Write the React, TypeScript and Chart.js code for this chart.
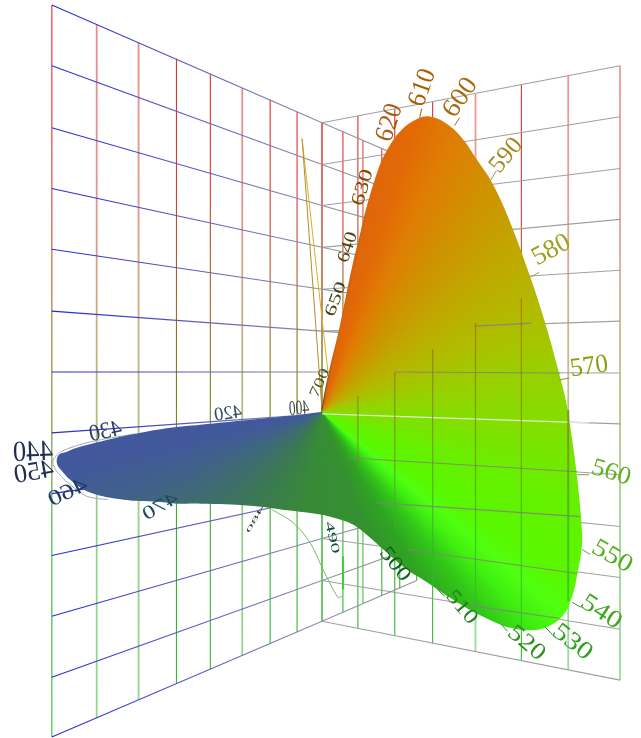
import React, { useEffect, useRef } from "react";
import { Chart, registerables } from "chart.js";

Chart.register(...registerables);

const WIDTH = 641;
const HEIGHT = 738;

// Left wall
const leftColX = [51, 96, 138, 176, 210, 242, 270, 297, 322, 343, 363, 382, 400, 417];
const leftColTop = [4, 24, 42, 58, 73, 87, 99, 111, 122, 131, 140, 148, 156, 163];
const leftColBottom = [738, 719, 701, 684, 670, 656, 644, 633, 622, 613, 604, 596, 589, 581];
const leftRowAtStart = [4, 65, 127, 188, 249, 311, 372, 433, 494, 556, 617, 678, 738];
const leftRowAtCorner = [122, 164, 205, 247, 289, 331, 372, 414, 456, 497, 539, 581, 622];
const leftRowAtEnd = [163, 199, 232, 268, 303, 338, 372, 407, 443, 476, 512, 547, 581];
const leftColPale = [0, 1, 1, 0, 0, 1, 0, 0, 1, 0, 1, 0, 0, 0];

// Right wall
const rightColX = [322, 358, 395, 433, 476, 522, 569, 621];
const rightColTop = [122, 115, 108, 101, 93, 84, 75, 65];
const rightColBottom = [622, 629, 636, 644, 652, 661, 671, 681];
const rightRowAtCorner = [122, 164, 205, 247, 289, 331, 372, 414, 456, 497, 539, 581, 622];
const rightRowAtEnd = [65, 116, 168, 219, 270, 321, 373, 424, 475, 527, 578, 630, 681];
const rightColPale = [1, 0, 0, 0, 1, 0, 1, 1];

// Right-wall pieces that show in front of the surface
const frontColX = [358, 395, 433, 476, 522, 569];
const frontColFrom = [396, 372, 349, 323, 298, 410];
const frontColTo = [471, 530, 587, 610, 628, 602];
const frontRowX0 = [476, 395, 348, 377, 407, 470];
const frontRowY0 = [326, 372, 458, 503, 550, 606];
const frontRowX1 = [532, 561, 578, 581, 578, 560];
const frontRowY1 = [323, 373, 472, 517, 574, 619];

// Outline of the spectral surface
const apexX = 322;
const apexY = 412;
const locusX = [321, 325, 331, 339, 346, 353, 361, 365, 378, 387, 401, 418, 431, 447, 463, 478, 493, 510, 531, 545, 559, 568, 573, 577, 580, 583, 582, 579, 573, 563, 547, 530, 513, 500, 473, 453, 423, 407, 387, 370, 353, 333, 320, 290, 250, 200, 177, 157, 123, 90, 73, 60, 56, 58, 66, 73, 107, 140, 170, 200, 250, 290, 321];
const locusY = [412, 390, 363, 330, 296, 263, 230, 213, 170, 150, 130, 118, 116, 123, 138, 160, 183, 220, 277, 320, 370, 407, 440, 470, 497, 537, 553, 570, 597, 617, 628, 631, 629, 625, 612, 600, 580, 570, 553, 538, 525, 518, 515, 511, 506, 504, 504, 502, 500, 493, 483, 470, 463, 455, 452, 449, 440, 433, 428, 425, 420, 416, 412];

// Ray colours of the surface, degrees clockwise from straight up
const rayDegrees = [0, 8, 10, 11.5, 13, 18, 25, 35, 50, 65, 80, 95, 110, 125, 130, 135, 141, 149, 160, 190, 215, 235, 248, 258, 275, 360];
const rayColors = ["#5a5030", "#5a5030", "#9a5a14", "#c8600c", "#e0660a", "#e26a06", "#e07c04", "#d09000", "#c0a800", "#b0bc00", "#98d000", "#80e000", "#66f000", "#58f800", "#50ff10", "#40f010", "#32c818", "#2ea422", "#349030", "#388a38", "#3a7a50", "#3e6c70", "#40608c", "#42589c", "#3f5aa0", "#5a5030"];

// Thin side curves
const redArmX = [302, 322];
const redArmY = [138, 410];
const yellowArmX = [302, 328];
const yellowArmY = [138, 372];
const greenCurveX = [272, 293, 310, 323, 338, 342];
const greenCurveY = [510, 523, 543, 570, 598, 597];
const greenStubY = [557, 590];
const tipOutlineX = [135, 90, 60, 52, 57, 73, 87, 107];
const tipOutlineY = [434, 442, 452, 462, 473, 488, 497, 500];

// Wavelength labels
const waveLabels = ["610", "600", "620", "630", "640", "650", "700", "590", "580", "570", "560", "550", "540", "530", "520", "510", "500", "490", "480", "470", "460", "450", "440", "430", "420", "400"];
const labelX = [423, 461, 390, 363, 348, 336, 320, 507, 552, 590, 612, 613, 602, 573, 527, 462, 395, 332, 255, 160, 67, 33, 32, 105, 228, 299];
const labelY = [87, 97, 122, 187, 247, 299, 383, 155, 250, 367, 473, 557, 613, 643, 644, 608, 565, 538, 520, 507, 493, 473, 453, 432, 414, 409];
const labelAngle = [-70, -56, -72, -74, -72, -70, -65, -50, -28, -8, 17, 30, 33, 38, 40, 50, 52, 77, -60, -30, -26, -10, -2, -12, -8, -4];
const labelLength = [38, 42, 38, 37, 31, 36, 30, 38, 40, 38, 40, 43, 44, 44, 42, 38, 38, 33, 30, 38, 41, 40, 40, 33, 28, 20];
const labelHeight = [18, 18, 18, 13, 12, 11, 10, 17, 18, 18, 17, 17, 17, 17, 16, 14, 14, 8, 4, 13, 15, 18, 20, 16, 13, 14];
const labelColor = ["#b05a00", "#a86c10", "#a85c10", "#804c00", "#504010", "#404010", "#505020", "#a08a20", "#a0a020", "#88a010", "#60b020", "#50b020", "#40a820", "#30a020", "#30901e", "#208020", "#106020", "#105030", "#203838", "#204a60", "#203a60", "#203050", "#203050", "#304060", "#304860", "#404840"];
const labelMirrored = [0, 0, 0, 0, 0, 0, 0, 0, 0, 0, 0, 0, 0, 0, 0, 0, 0, 0, 1, 1, 1, 1, 1, 1, 1, 1];

// Leaders between the outline and the labels
const leaderX0 = [420, 455, 491, 531, 560, 578, 583, 573, 546, 502, 438];
const leaderY0 = [117, 125, 180, 277, 380, 475, 550, 603, 628, 625, 590];
const leaderX1 = [422, 460, 497, 540, 570, 590, 591, 582, 553, 508, 445];
const leaderY1 = [108, 117, 170, 272, 378, 475, 555, 608, 635, 632, 597];
const leaderColor = ["#a06020", "#a07020", "#a09040", "#a0a040", "#889030", "#70a040", "#60a040", "#409030", "#309030", "#309030", "#208020"];

const zip = (xs: number[], ys: number[]) => xs.map((x, i) => ({ x, y: ys[i] }));

const ready = (c: any) => {
  const s = c.chart.scales;
  return s?.x && s?.y && Number.isFinite(s.x.getPixelForValue(0)) && Number.isFinite(s.y.getPixelForValue(0));
};

const wallVertical = (alpha: number) => (c: any) => {
  if (!ready(c)) return "#888";
  const { ctx, scales } = c.chart;
  const g = ctx.createLinearGradient(0, scales.y.getPixelForValue(0), 0, scales.y.getPixelForValue(HEIGHT));
  g.addColorStop(0, `rgba(224,40,40,${alpha})`);
  g.addColorStop(0.25, `rgba(216,58,48,${alpha})`);
  g.addColorStop(0.42, `rgba(160,106,32,${alpha})`);
  g.addColorStop(0.52, `rgba(128,128,24,${alpha})`);
  g.addColorStop(0.62, `rgba(106,144,32,${alpha})`);
  g.addColorStop(0.72, `rgba(56,176,48,${alpha})`);
  g.addColorStop(1, `rgba(48,192,48,${alpha})`);
  return g;
};

function leftHorizontal(c: any) {
  if (!ready(c)) return "#888";
  const { ctx, scales } = c.chart;
  const g = ctx.createLinearGradient(scales.x.getPixelForValue(51), 0, scales.x.getPixelForValue(417), 0);
  g.addColorStop(0, "#2828d8");
  g.addColorStop(0.5, "#6a6ab8");
  g.addColorStop(0.75, "#9090a8");
  g.addColorStop(1, "#909090");
  return g;
}

function surfaceFill(c: any) {
  if (!ready(c)) return "#888";
  const { ctx, scales } = c.chart;
  const g = ctx.createConicGradient(-Math.PI / 2, scales.x.getPixelForValue(apexX), scales.y.getPixelForValue(apexY));
  rayDegrees.forEach((d, i) => g.addColorStop(d / 360, rayColors[i]));
  return g;
}

const lineSet = (data: any[], borderColor: any, borderWidth: number, order: number, tension = 0) => ({
  type: "scatter" as const,
  data,
  showLine: true,
  borderColor,
  borderWidth,
  tension,
  pointRadius: 0,
  pointHoverRadius: 0,
  fill: false,
  order,
  clip: false as const,
});

const waveLabelPlugin = {
  id: "waveLabels",
  afterDatasetsDraw(chart: any) {
    const { ctx, scales } = chart;
    waveLabels.forEach((t, i) => {
      const size = labelLength[i] / 1.5;
      ctx.save();
      ctx.translate(scales.x.getPixelForValue(labelX[i]), scales.y.getPixelForValue(labelY[i]));
      ctx.rotate((labelAngle[i] * Math.PI) / 180);
      ctx.scale(labelMirrored[i] ? -1 : 1, labelHeight[i] / (0.68 * size));
      ctx.font = `${size}px "Liberation Serif"`;
      ctx.textAlign = "center";
      ctx.textBaseline = "middle";
      ctx.fillStyle = labelColor[i];
      ctx.fillText(t, 0, 0);
      ctx.restore();
    });
  },
};

export default function App() {
  const ref = useRef<HTMLCanvasElement>(null);
  useEffect(() => {
    if (!ref.current) return;
    const datasets: any[] = [];
    leftColX.forEach((x, i) =>
      datasets.push(
        lineSet(
          [{ x, y: leftColTop[i] }, { x, y: leftColBottom[i] }],
          wallVertical(leftColPale[i] ? 0.55 : 1),
          leftColPale[i] ? 1.8 : 1.1,
          5
        )
      )
    );
    rightColX.forEach((x, i) =>
      datasets.push(
        lineSet(
          [{ x, y: rightColTop[i] }, { x, y: rightColBottom[i] }],
          wallVertical(rightColPale[i] ? 0.5 : 1),
          rightColPale[i] ? 1.8 : 1.1,
          5
        )
      )
    );
    leftRowAtStart.forEach((y, i) =>
      datasets.push(
        lineSet(
          [
            { x: 51, y },
            { x: 322, y: leftRowAtCorner[i] },
            { x: 417, y: leftRowAtEnd[i] },
          ],
          leftHorizontal,
          1.1,
          4
        )
      )
    );
    rightRowAtCorner.forEach((y, i) =>
      datasets.push(lineSet([{ x: 322, y }, { x: 621, y: rightRowAtEnd[i] }], "#a0a0a0", 1.1, 4))
    );
    // thin curves behind the surface
    datasets.push(lineSet(zip(redArmX, redArmY), "#b88a30", 1, 3));
    datasets.push(lineSet(zip(yellowArmX, yellowArmY), "#d8b020", 1, 3));
    datasets.push(lineSet(zip(greenCurveX, greenCurveY), "#70c060", 1, 3, 0.3));
    datasets.push(lineSet([{ x: 343, y: greenStubY[0] }, { x: 343, y: greenStubY[1] }], "#38d038", 2, 3));
    datasets.push(lineSet(zip(tipOutlineX, tipOutlineY), "#a0a8c0", 1, 3, 0.3));
    // the surface
    datasets.push({
      ...lineSet(zip(locusX, locusY), "rgba(0,0,0,0)", 0, 2, 0.4),
      fill: "shape",
      backgroundColor: surfaceFill,
    });
    // wall pieces in front of the surface
    frontColX.forEach((x, i) =>
      datasets.push(
        lineSet([{ x, y: frontColFrom[i] }, { x, y: frontColTo[i] }], wallVertical(0.75), x === 569 ? 2 : 1.2, 1)
      )
    );
    frontRowX0.forEach((x, i) =>
      datasets.push(
        lineSet([{ x, y: frontRowY0[i] }, { x: frontRowX1[i], y: frontRowY1[i] }], "rgba(130,130,120,0.85)", 1.1, 1)
      )
    );
    datasets.push(lineSet([{ x: 322, y: 414 }, { x: 590, y: 423 }], "rgba(240,240,240,0.85)", 1.1, 1));
    leaderX0.forEach((x, i) =>
      datasets.push(lineSet([{ x, y: leaderY0[i] }, { x: leaderX1[i], y: leaderY1[i] }], leaderColor[i], 1, 1))
    );

    const chart = new Chart(ref.current, {
      type: "scatter",
      data: { datasets },
      options: {
        animation: false,
        responsive: false,
        events: [],
        layout: { padding: 0 },
        plugins: { legend: { display: false }, tooltip: { enabled: false } },
        scales: {
          x: { type: "linear", min: 0, max: WIDTH, display: false },
          y: { type: "linear", min: 0, max: HEIGHT, reverse: true, display: false },
        },
      },
      plugins: [waveLabelPlugin],
    } as any);
    chart.update();
    return () => chart.destroy();
  }, []);
  return (
    <div style={{ position: "absolute", left: 0, top: 0, width: WIDTH, height: HEIGHT, background: "#fff" }}>
      <canvas ref={ref} width={WIDTH} height={HEIGHT} style={{ display: "block" }} />
    </div>
  );
}
